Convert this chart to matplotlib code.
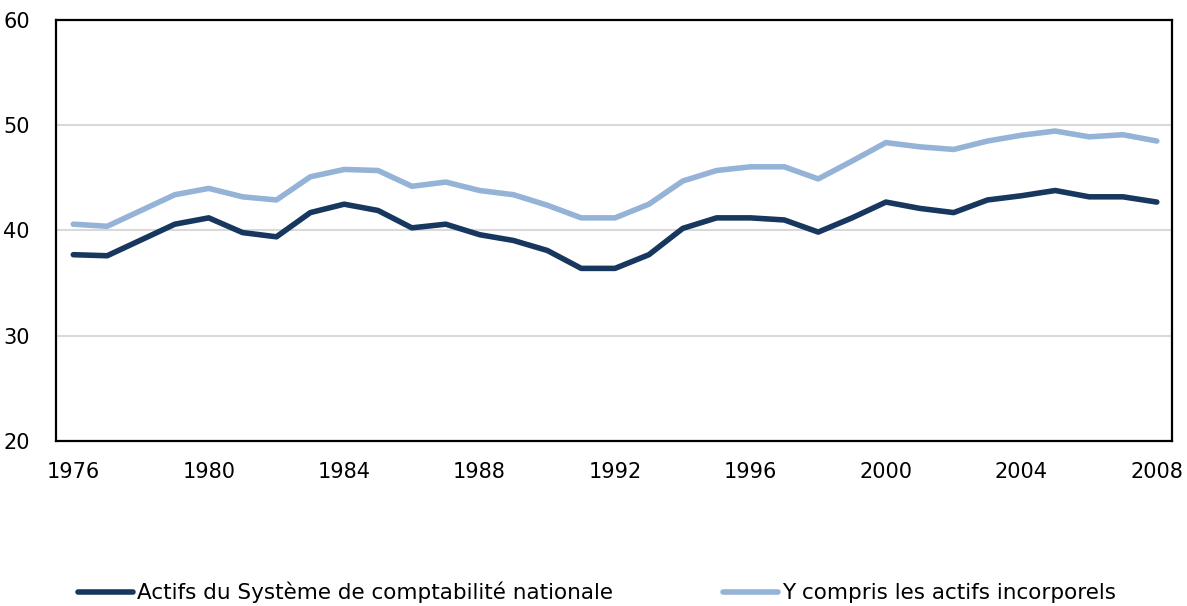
import matplotlib
matplotlib.use("Agg")
import matplotlib.pyplot as plt
import numpy as np

# Years and the two series
years = np.arange(1976, 2009)

actifs_scn = [37.7, 37.6, 39.1, 40.6, 41.2, 39.8, 39.4, 41.7, 42.5, 41.9,
              40.25, 40.6, 39.6, 39.05, 38.1, 36.4, 36.4, 37.7, 40.2, 41.2,
              41.2, 41.0, 39.85, 41.2, 42.7, 42.1, 41.7, 42.9, 43.3, 43.8,
              43.2, 43.2, 42.7]

avec_incorporels = [40.6, 40.4, 41.9, 43.4, 44.0, 43.2, 42.9, 45.1, 45.8, 45.7,
                    44.2, 44.6, 43.8, 43.4, 42.4, 41.2, 41.2, 42.5, 44.7, 45.7,
                    46.05, 46.05, 44.9, 46.6, 48.35, 47.95, 47.7, 48.5, 49.05, 49.45,
                    48.9, 49.1, 48.5]

labels = ["Actifs du Système de comptabilité nationale",
          "Y compris les actifs incorporels"]
colors = ["#17375E", "#95B3D7"]

xticks = list(range(1976, 2009, 4))
yticks = [20, 30, 40, 50, 60]

plt.rcParams['font.family'] = ['DejaVu Sans']

fig = plt.figure(figsize=(11.87, 6.06), dpi=100)
ax = fig.add_axes([0.0472, 0.2723, 0.9402, 0.6947])

ax.plot(years, actifs_scn, color=colors[0], linewidth=4,
        solid_capstyle='round', solid_joinstyle='round', label=labels[0], zorder=3)
ax.plot(years, avec_incorporels, color=colors[1], linewidth=4,
        solid_capstyle='round', solid_joinstyle='round', label=labels[1], zorder=3)

ax.set_xlim(1975.49, 2008.45)
ax.set_ylim(20, 60)
ax.set_xticks(xticks)
ax.set_yticks(yticks)
ax.tick_params(axis='both', length=0, labelsize=15, colors='black')
ax.tick_params(axis='x', pad=15)
ax.tick_params(axis='y', pad=19)

ax.grid(axis='y', color='#D9D9D9', linewidth=1.5, zorder=0)
ax.set_axisbelow(True)
for spine in ax.spines.values():
    spine.set_color('black')
    spine.set_linewidth(1.6)

fig.legend(loc='center', bbox_to_anchor=(0.503, 0.022), ncol=2, frameon=False,
           fontsize=15.5, handlelength=2.55, handletextpad=0.2, columnspacing=5.1,
           borderaxespad=0)

fig.savefig("out.png", dpi=100)
